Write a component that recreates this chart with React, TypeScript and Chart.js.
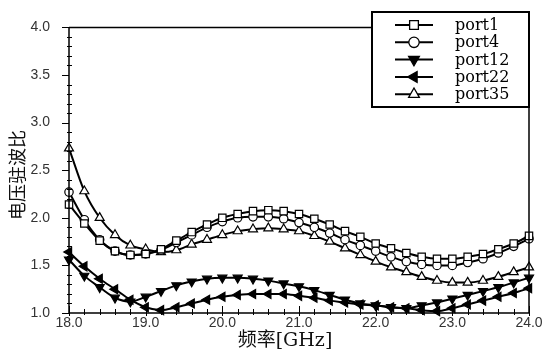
import { useEffect, useRef } from "react";
import { Chart, registerables } from "chart.js";
import { drawPoint } from "chart.js/helpers";

Chart.register(...registerables);

const freqs = [
  18.0, 18.2, 18.4, 18.6, 18.8, 19.0, 19.2, 19.4, 19.6, 19.8,
  20.0, 20.2, 20.4, 20.6, 20.8, 21.0, 21.2, 21.4, 21.6, 21.8,
  22.0, 22.2, 22.4, 22.6, 22.8, 23.0, 23.2, 23.4, 23.6, 23.8, 24.0,
];

const port1 = [
  2.14, 1.94, 1.76, 1.65, 1.61, 1.62, 1.67, 1.76, 1.85, 1.93,
  2.0, 2.04, 2.07, 2.08, 2.07, 2.04, 1.99, 1.93, 1.86, 1.8,
  1.73, 1.68, 1.63, 1.59, 1.57, 1.57, 1.59, 1.62, 1.67, 1.73, 1.81,
];
const port4 = [
  2.27, 1.98, 1.77, 1.65, 1.61, 1.62, 1.66, 1.74, 1.82, 1.9,
  1.96, 2.0, 2.01, 2.01, 1.99, 1.95, 1.9, 1.84, 1.77, 1.71,
  1.65, 1.59, 1.54, 1.51, 1.5, 1.5, 1.53, 1.57, 1.63, 1.7, 1.78,
];
const port12 = [
  1.56, 1.39, 1.27, 1.16, 1.12, 1.17, 1.23, 1.29, 1.33, 1.36,
  1.37, 1.37, 1.36, 1.34, 1.31, 1.28, 1.24, 1.19, 1.14, 1.1,
  1.08, 1.06, 1.05, 1.08, 1.11, 1.15, 1.19, 1.23, 1.27, 1.32, 1.37,
];
const port22 = [
  1.64, 1.49, 1.36, 1.25, 1.14, 1.06, 1.03, 1.06, 1.1, 1.14,
  1.17, 1.19, 1.2, 1.2, 1.2, 1.18, 1.16, 1.13, 1.11, 1.09,
  1.08, 1.06, 1.05, 1.03, 1.02, 1.05, 1.09, 1.13, 1.17, 1.21, 1.26,
];
const port35 = [
  2.73, 2.28, 2.0, 1.82, 1.71, 1.67, 1.64, 1.66, 1.72, 1.77,
  1.82, 1.86, 1.88, 1.89, 1.88, 1.86, 1.81, 1.75, 1.68, 1.61,
  1.54, 1.48, 1.43, 1.38, 1.34, 1.32, 1.32, 1.34, 1.38, 1.43, 1.48,
];

const seriesLabels = ["port1", "port4", "port12", "port22", "port35"];
const xTitle = "频率[GHz]";
const yTitle = "电压驻波比";

type Marker = { style: any; rotation: number; radius: number; fill: string };
const markers: Marker[] = [
  { style: "rect", rotation: 0, radius: 5.2, fill: "#fff" },
  { style: "circle", rotation: 0, radius: 4.2, fill: "#fff" },
  { style: "triangle", rotation: 180, radius: 5.2, fill: "#000" },
  { style: "triangle", rotation: 270, radius: 5.2, fill: "#000" },
  { style: "triangle", rotation: 0, radius: 5.2, fill: "#fff" },
];

const decorPlugin = {
  id: "decor",
  afterDraw(chart: any) {
    const ctx = chart.ctx as CanvasRenderingContext2D;
    const { left, right, top, bottom } = chart.chartArea;
    const xs = chart.scales.x;
    const ys = chart.scales.y;
    ctx.save();
    ctx.strokeStyle = "#000";
    // frame
    ctx.lineWidth = 1.5;
    ctx.beginPath();
    ctx.moveTo(left, top);
    ctx.lineTo(right, top);
    ctx.lineTo(right, bottom);
    ctx.stroke();
    ctx.beginPath();
    ctx.moveTo(left, top);
    ctx.lineTo(left, bottom);
    ctx.lineTo(right, bottom);
    ctx.stroke();
    // y ticks
    ctx.lineWidth = 1;
    for (let i = 0; i <= 30; i++) {
      const v = 1 + i * 0.1;
      const py = Math.round(ys.getPixelForValue(v)) + 0.5;
      ctx.beginPath();
      if (i % 5 === 0) {
        ctx.moveTo(left - 7, py);
        ctx.lineTo(left, py);
      } else {
        ctx.moveTo(left - 2, py);
        ctx.lineTo(left + 3, py);
      }
      ctx.stroke();
    }
    // x ticks
    for (let i = 0; i <= 30; i++) {
      const v = 18 + i * 0.2;
      const px = Math.round(xs.getPixelForValue(v)) + 0.5;
      ctx.beginPath();
      if (i % 5 === 0) {
        ctx.moveTo(px, bottom - 7);
        ctx.lineTo(px, bottom + 3);
      } else {
        ctx.moveTo(px, bottom - 4);
        ctx.lineTo(px, bottom + 2);
      }
      ctx.stroke();
    }
    // axis titles
    ctx.fillStyle = "#111";
    ctx.textAlign = "center";
    ctx.textBaseline = "middle";
    ctx.font = '19px "DejaVu Serif", "Noto Sans CJK SC"';
    ctx.fillText(xTitle, 285, 341);
    ctx.save();
    ctx.translate(17, 175);
    ctx.rotate(-Math.PI / 2);
    ctx.font = '18px "Noto Sans CJK SC"';
    ctx.fillText(yTitle, 0, 0);
    ctx.restore();
    // legend
    const bx = 371, by = 11, bw = 159, bh = 97;
    ctx.fillStyle = "#fff";
    ctx.fillRect(bx, by, bw, bh);
    ctx.lineWidth = 2;
    ctx.strokeStyle = "#000";
    ctx.strokeRect(bx + 1, by + 1, bw - 2, bh - 2);
    chart.data.datasets.forEach((ds: any, i: number) => {
      const y = 25 + i * 17.3;
      const m = markers[i];
      ctx.lineWidth = 2;
      ctx.strokeStyle = "#000";
      ctx.beginPath();
      ctx.moveTo(395, y);
      ctx.lineTo(433, y);
      ctx.stroke();
      ctx.fillStyle = m.fill;
      ctx.lineWidth = 1.3;
      drawPoint(ctx, { pointStyle: m.style, rotation: m.rotation, radius: m.radius + 1, borderWidth: 1.3 } as any, 414, y);
      ctx.fillStyle = "#000";
      ctx.textAlign = "left";
      ctx.textBaseline = "middle";
      ctx.font = '16px "DejaVu Serif"';
      ctx.fillText(ds.label, 455, y + 1);
    });
    ctx.restore();
  },
};

export default function App() {
  const ref = useRef<HTMLCanvasElement | null>(null);
  useEffect(() => {
    if (!ref.current) return;
    const seriesValues = [port1, port4, port12, port22, port35];
    const chart = new Chart(ref.current, {
      type: "line",
      data: {
        datasets: seriesValues.map((vals, i) => ({
          label: seriesLabels[i],
          data: freqs.map((f, j) => ({ x: f, y: vals[j] })),
          borderColor: "#000",
          borderWidth: 2,
          pointStyle: markers[i].style,
          pointRotation: markers[i].rotation,
          pointRadius: markers[i].radius,
          pointBackgroundColor: markers[i].fill,
          pointBorderColor: "#000",
          pointBorderWidth: 1.2,
          cubicInterpolationMode: "monotone" as const,
          clip: false as any,
        })),
      },
      options: {
        animation: false,
        responsive: false,
        maintainAspectRatio: false,
        layout: { padding: { left: 0, top: 11, right: 25, bottom: 0 } },
        plugins: { legend: { display: false }, tooltip: { enabled: false } },
        scales: {
          x: {
            type: "linear",
            min: 18,
            max: 24,
            grid: { display: false, drawTicks: false },
            border: { display: false },
            ticks: {
              stepSize: 1,
              padding: 2,
              color: "#333",
              font: { family: "Liberation Sans", size: 14 },
              callback: (v: any) => Number(v).toFixed(1),
            },
            afterFit: (s: any) => {
              s.height = 49;
            },
          },
          y: {
            type: "linear",
            min: 1,
            max: 4,
            grid: { display: false, drawTicks: false },
            border: { display: false },
            ticks: {
              stepSize: 0.5,
              padding: 19,
              color: "#333",
              font: { family: "Liberation Sans", size: 14 },
              callback: (v: any) => Number(v).toFixed(1),
            },
            afterFit: (s: any) => {
              s.width = 69;
            },
          },
        },
      },
      plugins: [decorPlugin],
    });
    return () => chart.destroy();
  }, []);
  return (
    <div style={{ position: "fixed", left: 0, top: 0, width: 554, height: 362, background: "#fff" }}>
      <canvas ref={ref} width={554} height={362} style={{ width: 554, height: 362 }} />
    </div>
  );
}
